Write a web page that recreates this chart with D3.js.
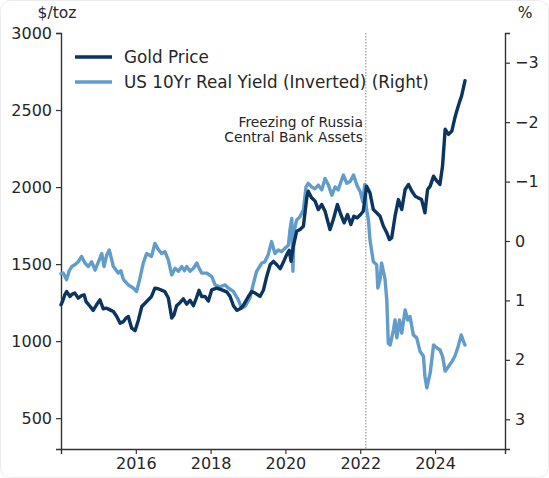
<!DOCTYPE html>
<html>
<head>
<meta charset="utf-8">
<script src="https://cdn.jsdelivr.net/npm/d3@7"></script>
<style>
  body { margin: 0; background: white; }
  svg { display: block; }
  text { font-family: 'DejaVu Sans', sans-serif; fill: #262626; }
</style>
</head>
<body>
<svg></svg>
<script>
// decimal year, $/toz (weekly-ish)
const gold = [
  [2014.00,1236],[2014.04,1257],[2014.10,1300],[2014.15,1322],[2014.24,1290],[2014.30,1305],
  [2014.37,1312],[2014.46,1279],[2014.55,1295],[2014.62,1300],[2014.67,1257],[2014.78,1225],
  [2014.86,1200],[2014.95,1236],[2015.04,1268],[2015.13,1210],[2015.22,1214],[2015.31,1203],
  [2015.40,1192],[2015.49,1160],[2015.58,1117],[2015.67,1127],[2015.74,1150],[2015.80,1160],
  [2015.89,1084],[2015.98,1068],[2016.07,1138],[2016.16,1225],[2016.29,1257],[2016.42,1290],
  [2016.51,1344],[2016.60,1340],[2016.70,1330],[2016.78,1320],[2016.87,1280],[2016.96,1150],
  [2017.02,1170],[2017.09,1230],[2017.18,1250],[2017.27,1275],[2017.36,1240],[2017.45,1265],
  [2017.54,1230],[2017.62,1280],[2017.69,1330],[2017.76,1290],[2017.85,1290],[2017.94,1260],
  [2018.03,1333],[2018.16,1344],[2018.30,1333],[2018.43,1320],[2018.52,1290],[2018.61,1230],
  [2018.70,1200],[2018.79,1210],[2018.87,1230],[2019.01,1290],[2019.10,1322],[2019.19,1312],
  [2019.32,1290],[2019.41,1330],[2019.50,1420],[2019.59,1496],[2019.68,1518],[2019.77,1496],
  [2019.86,1470],[2019.94,1510],[2020.03,1560],[2020.10,1590],[2020.15,1518],[2020.21,1615],
  [2020.30,1713],[2020.39,1724],[2020.48,1746],[2020.57,1930],[2020.61,1973],[2020.70,1930],
  [2020.79,1910],[2020.88,1854],[2020.97,1887],[2021.06,1843],[2021.19,1724],[2021.28,1790],
  [2021.39,1887],[2021.48,1822],[2021.57,1768],[2021.66,1822],[2021.75,1757],[2021.83,1811],
  [2021.92,1800],[2022.01,1822],[2022.08,1843],[2022.17,2006],[2022.26,1963],[2022.35,1854],
  [2022.44,1833],[2022.53,1811],[2022.62,1746],[2022.71,1703],[2022.78,1659],[2022.84,1670],
  [2022.93,1811],[2023.02,1919],[2023.11,1854],[2023.20,1984],[2023.29,2017],[2023.38,1973],
  [2023.47,1941],[2023.55,1930],[2023.64,1919],[2023.73,1833],[2023.80,1984],[2023.87,2006],
  [2023.96,2071],[2024.05,2038],[2024.13,2017],[2024.20,2136],[2024.27,2375],[2024.36,2342],
  [2024.45,2364],[2024.52,2440],[2024.58,2494],[2024.65,2549],[2024.71,2592],[2024.77,2657],
  [2024.80,2690]
]

// decimal year, US 10yr real yield in % (plotted inverted)
const realYield = [
  [2014.00,0.55],[2014.06,0.54],[2014.15,0.65],[2014.22,0.50],[2014.29,0.43],[2014.37,0.40],
  [2014.46,0.35],[2014.55,0.26],[2014.64,0.37],[2014.73,0.43],[2014.82,0.35],[2014.91,0.49],
  [2015.02,0.32],[2015.09,0.21],[2015.15,0.43],[2015.22,0.24],[2015.29,0.15],[2015.35,0.30],
  [2015.40,0.43],[2015.53,0.54],[2015.60,0.50],[2015.67,0.65],[2015.80,0.74],[2015.93,0.79],
  [2016.02,0.85],[2016.11,0.63],[2016.20,0.37],[2016.29,0.21],[2016.42,0.26],[2016.51,0.04],
  [2016.60,0.14],[2016.69,0.21],[2016.78,0.18],[2016.87,0.32],[2016.96,0.57],[2017.05,0.46],
  [2017.14,0.51],[2017.23,0.43],[2017.30,0.50],[2017.36,0.43],[2017.45,0.51],[2017.54,0.46],
  [2017.63,0.37],[2017.67,0.43],[2017.76,0.54],[2017.90,0.54],[2018.03,0.60],[2018.12,0.74],
  [2018.25,0.77],[2018.39,0.74],[2018.47,0.79],[2018.61,0.85],[2018.74,0.99],[2018.83,1.13],
  [2018.92,1.10],[2019.05,0.96],[2019.15,0.70],[2019.23,0.51],[2019.37,0.37],[2019.45,0.35],
  [2019.54,0.23],[2019.63,0.01],[2019.72,0.21],[2019.81,0.15],[2019.90,0.18],[2019.99,0.12],
  [2020.08,0.07],[2020.12,-0.18],[2020.17,-0.38],[2020.20,0.51],[2020.23,-0.16],[2020.30,-0.35],
  [2020.39,-0.41],[2020.48,-0.52],[2020.55,-0.91],[2020.61,-0.97],[2020.70,-0.91],[2020.79,-0.88],
  [2020.88,-0.94],[2020.97,-0.86],[2021.06,-1.05],[2021.15,-0.94],[2021.24,-0.77],[2021.33,-0.91],
  [2021.41,-0.86],[2021.55,-1.11],[2021.64,-0.97],[2021.73,-1.00],[2021.82,-1.11],[2021.91,-0.94],
  [2022.00,-0.83],[2022.07,-0.66],[2022.12,-0.95],[2022.16,-0.57],[2022.22,-0.35],[2022.26,-0.02],
  [2022.35,0.35],[2022.44,0.40],[2022.47,0.79],[2022.53,0.65],[2022.57,0.37],[2022.66,0.63],
  [2022.71,0.99],[2022.75,1.72],[2022.80,1.75],[2022.89,1.49],[2022.93,1.33],[2022.98,1.63],
  [2023.05,1.33],[2023.11,1.55],[2023.20,1.16],[2023.27,1.33],[2023.33,1.27],[2023.42,1.58],
  [2023.51,1.63],[2023.60,1.86],[2023.69,1.94],[2023.73,2.28],[2023.78,2.47],[2023.87,2.22],
  [2023.96,1.75],[2024.05,1.80],[2024.13,1.83],[2024.20,1.94],[2024.27,2.19],[2024.36,2.11],
  [2024.45,2.03],[2024.53,1.94],[2024.62,1.77],[2024.70,1.58],[2024.76,1.69],[2024.80,1.75]
]

const xTicks = [2016, 2018, 2020, 2022, 2024]
const leftTicks = [500, 1000, 1500, 2000, 2500, 3000]
const rightTicks = [-3, -2, -1, 0, 1, 2, 3]
const freezeDate = 2022.15
const legendItems = ['Gold Price', 'US 10Yr Real Yield (Inverted) (Right)']
const noteLines = ['Freezing of Russia', 'Central Bank Assets']

const W = 549, H = 478
const m = { top: 33, right: 44, bottom: 29, left: 61 }
const dark = '#0b3560', light = '#619ccb'

const svg = d3.select('svg').attr('width', W).attr('height', H)

// faint rounded frame around the picture
svg.append('rect')
  .attr('x', 0.5).attr('y', 0.5).attr('width', W - 1).attr('height', H - 1)
  .attr('rx', 10).attr('fill', 'none').attr('stroke', '#ececec')

const x = d3.scaleLinear().domain([2014.0, 2025.87]).range([m.left, W - m.right])
const yL = d3.scaleLinear().domain([300, 3000]).range([H - m.bottom, m.top])
const yR = d3.scaleLinear().domain([3.5, -3.5]).range([H - m.bottom, m.top])

const styleAxis = g => {
  g.select('.domain').attr('stroke', '#333').attr('stroke-width', 1.4)
  g.selectAll('.tick line').attr('stroke', '#333').attr('stroke-width', 1.2)
  g.selectAll('.tick text').attr('font-size', 16).attr('fill', '#262626')
    .attr('font-family', "'DejaVu Sans', sans-serif")
}

svg.append('g')
  .attr('transform', `translate(0,${H - m.bottom})`)
  .call(d3.axisBottom(x).tickValues(xTicks).tickFormat(d3.format('d'))
    .tickSizeOuter(0).tickSize(5).tickPadding(4))
  .call(styleAxis)

svg.append('g')
  .attr('transform', `translate(${m.left},0)`)
  .call(d3.axisLeft(yL).tickValues(leftTicks).tickFormat(d3.format('d'))
    .tickSizeOuter(0).tickSize(5).tickPadding(4))
  .call(styleAxis)

svg.append('g')
  .attr('transform', `translate(${W - m.right},0)`)
  .call(d3.axisRight(yR).tickValues(rightTicks).tickFormat(d3.format('d'))
    .tickSizeOuter(0).tickSize(5).tickPadding(5))
  .call(styleAxis)

// unit labels
svg.append('text').attr('x', 57).attr('y', 18).attr('text-anchor', 'middle')
  .attr('font-size', 15.5).text('$/toz')
svg.append('text').attr('x', 525).attr('y', 18).attr('text-anchor', 'middle')
  .attr('font-size', 15.5).text('%')

// event marker
svg.append('line')
  .attr('x1', x(freezeDate)).attr('x2', x(freezeDate))
  .attr('y1', m.top).attr('y2', H - m.bottom)
  .attr('stroke', '#888').attr('stroke-width', 1).attr('stroke-dasharray', '1.5,1.5')

svg.append('g').selectAll('text').data(noteLines).join('text')
  .attr('x', x(freezeDate) - 3).attr('y', (d, i) => 127 + i * 15)
  .attr('text-anchor', 'end').attr('font-size', 13.8).text(d => d)

const lineG = d3.line().x(d => x(d[0])).y(d => yL(d[1]))
const lineY = d3.line().x(d => x(d[0])).y(d => yR(d[1]))

svg.append('path').datum(realYield)
  .attr('d', lineY).attr('fill', 'none').attr('stroke', light)
  .attr('stroke-width', 3.4).attr('stroke-linejoin', 'round').attr('stroke-linecap', 'round')

svg.append('path').datum(gold)
  .attr('d', lineG).attr('fill', 'none').attr('stroke', dark)
  .attr('stroke-width', 3.4).attr('stroke-linejoin', 'round').attr('stroke-linecap', 'round')

// legend
const leg = svg.append('g').selectAll('g').data(legendItems).join('g')
  .attr('transform', (d, i) => `translate(75,${57 + i * 25})`)
leg.append('line').attr('x1', 0).attr('x2', 37)
  .attr('stroke', (d, i) => i ? light : dark).attr('stroke-width', 3.5)
leg.append('text').attr('x', 49).attr('dy', '0.35em')
  .attr('font-size', 16.8).text(d => d)
</script>
</body>
</html>
